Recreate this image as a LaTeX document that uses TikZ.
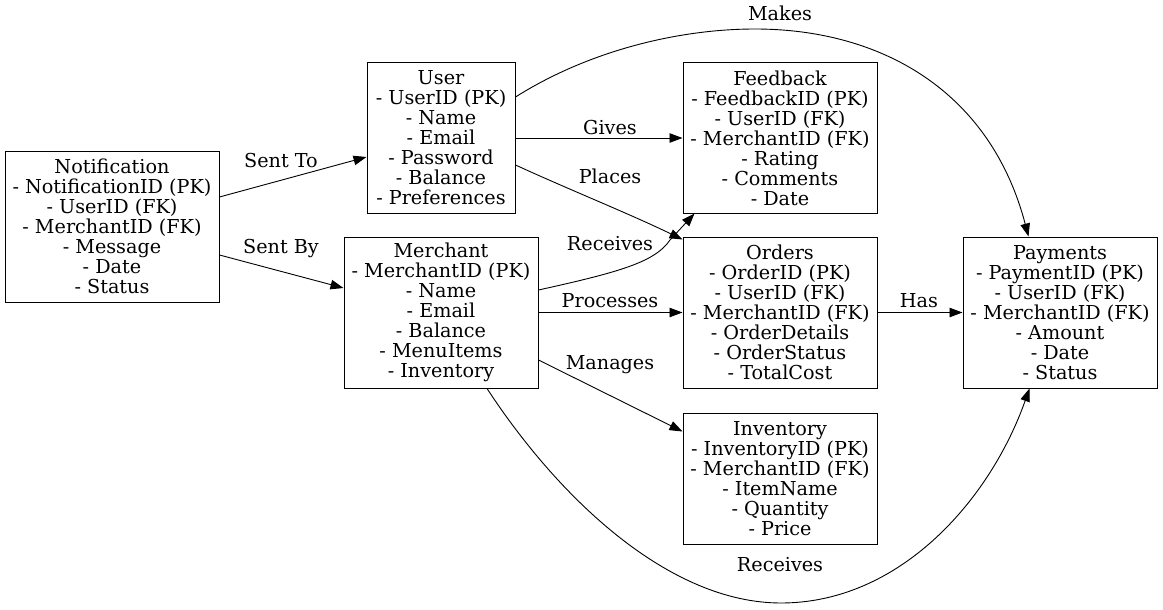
\documentclass[tikz,border=0pt]{standalone}
\usepackage{fontspec}
\setmainfont{DejaVu Serif}
\usetikzlibrary{arrows.meta}
\begin{document}
\begin{tikzpicture}[x=1pt,y=-1pt,
  ent/.style={draw, line width=1pt, align=center, inner sep=0pt, font=\fontsize{19.2}{20}\selectfont},
  lbl/.style={inner sep=0pt, font=\fontsize{19.2}{20}\selectfont},
  rel/.style={line width=0.9pt, -{Triangle[length=13pt,width=9.5pt]}}]
\fill[white] (0,0) rectangle (1163,610);
\useasboundingbox (0,0) rectangle (1163,610);
\node[ent, minimum width=214pt, minimum height=151pt] (notif) at (112,226.5) {Notification\\- NotificationID (PK)\\- UserID (FK)\\- MerchantID (FK)\\- Message\\- Date\\- Status};
\node[ent, minimum width=148pt, minimum height=150pt] (user) at (441,138) {User\\- UserID (PK)\\- Name\\- Email\\- Password\\- Balance\\- Preferences};
\node[ent, minimum width=194pt, minimum height=151pt] (merch) at (441,312.5) {Merchant\\- MerchantID (PK)\\- Name\\- Email\\- Balance\\- MenuItems\\- Inventory};
\node[ent, minimum width=194pt, minimum height=150pt] (fb) at (780,138) {Feedback\\- FeedbackID (PK)\\- UserID (FK)\\- MerchantID (FK)\\- Rating\\- Comments\\- Date};
\node[ent, minimum width=194pt, minimum height=151pt] (orders) at (780,312.5) {Orders\\- OrderID (PK)\\- UserID (FK)\\- MerchantID (FK)\\- OrderDetails\\- OrderStatus\\- TotalCost};
\node[ent, minimum width=194pt, minimum height=131pt] (inv) at (780,478.5) {Inventory\\- InventoryID (PK)\\- MerchantID (FK)\\- ItemName\\- Quantity\\- Price};
\node[ent, minimum width=194pt, minimum height=151pt] (pay) at (1060,312.5) {Payments\\- PaymentID (PK)\\- UserID (FK)\\- MerchantID (FK)\\- Amount\\- Date\\- Status};
% connectors
\draw[rel] ([yshift=29.5pt]notif.east) -- ([yshift=-19pt]user.west);
\draw[rel] ([yshift=-28.5pt]notif.east) -- ([yshift=24.5pt]merch.west);
\draw[rel] (user.east) -- (fb.west);
\draw[rel] ([yshift=-27pt]user.east) .. controls (570,190) and (630,214) .. ([yshift=-3pt]orders.north west);
\draw[rel] ([yshift=41pt]user.east) .. controls (590,50) and (680,29) .. (755,29) .. controls (880,29) and (990,90) .. ([xshift=66pt]pay.north west);
\draw[rel] ([yshift=22.5pt]merch.east) .. controls (620,272) and (655,262) .. (670,240) -- ([xshift=12pt]fb.south west);
\draw[rel] (merch.east) -- (orders.west);
\draw[rel] ([yshift=-47.5pt]merch.east) -- ([yshift=-19pt]inv.north west);
\draw[rel] ([xshift=46pt]merch.south) .. controls (560,500) and (670,603) .. (781,603) .. controls (900,603) and (990,500) .. ([xshift=67pt]pay.south west);
\draw[rel] (orders.east) -- (pay.west);
% labels
\node[lbl] (lSentTo) at (281,161) {Sent To};
\node[lbl] (lSentBy) at (281,249) {Sent By};
\node[lbl] (lGives) at (610,128) {Gives};
\node[lbl] (lPlaces) at (610,176) {Places};
\node[lbl] (lMakes) at (780,13) {Makes};
\node[lbl] (lRecv1) at (610,244) {Receives};
\node[lbl] (lProc) at (610,301) {Processes};
\node[lbl] (lMan) at (610,365) {Manages};
\node[lbl] (lHas) at (919,301) {Has};
\node[lbl] (lRecv2) at (780,565) {Receives};
\end{tikzpicture}
\end{document}
